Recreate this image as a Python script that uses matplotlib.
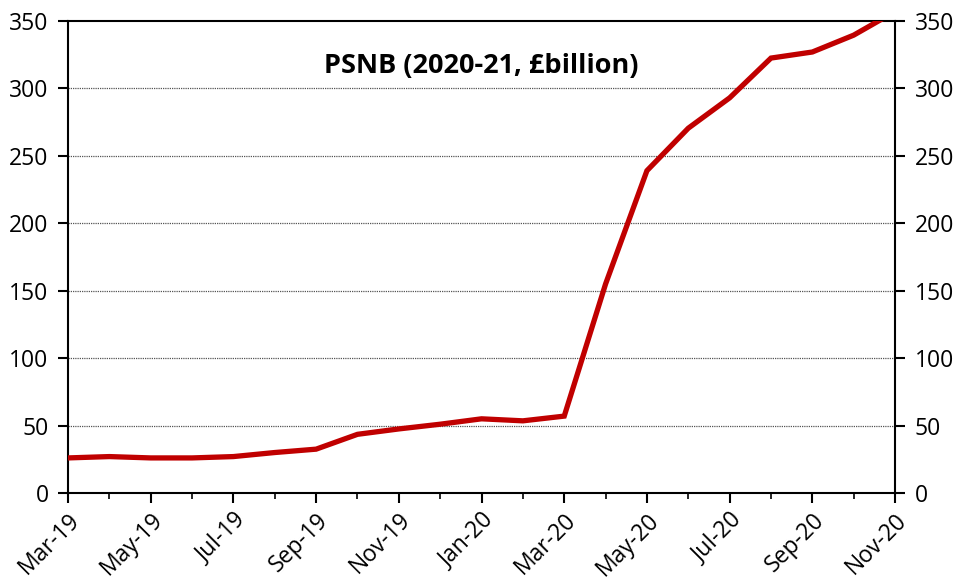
import numpy as np
import matplotlib.pyplot as plt

plt.rcParams['font.family'] = ['Open Sans', 'DejaVu Sans']

months = ['Mar-19', 'Apr-19', 'May-19', 'Jun-19', 'Jul-19', 'Aug-19', 'Sep-19',
          'Oct-19', 'Nov-19', 'Dec-19', 'Jan-20', 'Feb-20', 'Mar-20', 'Apr-20',
          'May-20', 'Jun-20', 'Jul-20', 'Aug-20', 'Sep-20', 'Oct-20', 'Nov-20']
psnb = [26, 27, 26, 26, 27, 30, 32.5, 43.5, 47.5, 51, 55, 53.5, 57, 155,
        239, 270.5, 293, 322.5, 327, 339.5, 357]
yticks = [0, 50, 100, 150, 200, 250, 300, 350]

x = np.arange(len(months))

fig = plt.figure(figsize=(9.62, 5.83), dpi=100)
ax = fig.add_axes([0.0707, 0.1544, 0.8597, 0.8096])

for y in yticks[1:-1]:
    ax.axhline(y, color='#555555', linestyle=(0, (1, 0.8)), linewidth=0.9, zorder=1)

ax.plot(x, psnb, color='#C00000', linewidth=3.8, zorder=3, solid_joinstyle='miter')

ax.set_xlim(0, len(months) - 1)
ax.set_ylim(0, 350)
ax.set_yticks(yticks)
ax.set_xticks(x[::2])
ax.set_xticklabels(months[::2], rotation=45, ha='right', rotation_mode='anchor')
ax.set_xticks(x, minor=True)
ax.tick_params(axis='x', which='major', length=7, width=1.5, labelsize=16.5, pad=4)
ax.tick_params(axis='x', which='minor', length=4, width=1.2)
ax.tick_params(axis='y', length=7, width=1.5, labelsize=16.5, left=True, right=True,
               labelleft=True, labelright=True, pad=7)

for s in ax.spines.values():
    s.set_linewidth(1.5)

ax.text(0.5, 0.905, 'PSNB (2020-21, £billion)', transform=ax.transAxes,
        ha='center', va='center', fontsize=19.5, fontweight='bold')

fig.savefig('out.png', dpi=100)
